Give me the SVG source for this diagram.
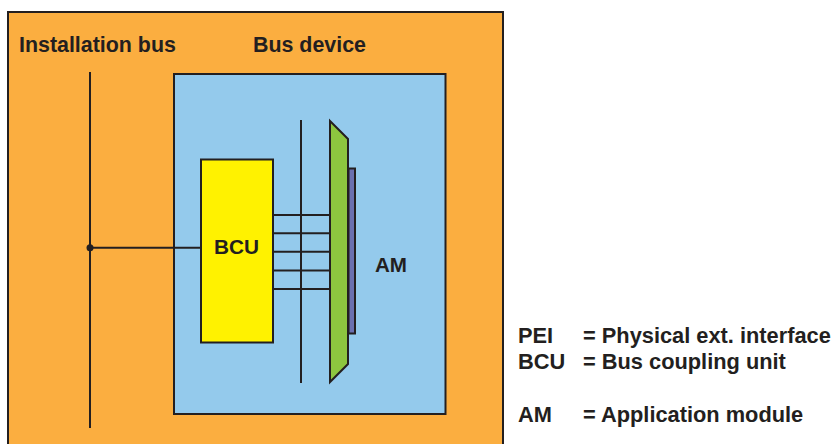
<svg xmlns="http://www.w3.org/2000/svg" width="832" height="444" viewBox="0 0 832 444">
<style>
.t{font-family:"Liberation Sans",Arial,sans-serif;font-weight:bold;fill:#231f20}
.s{stroke:#231f20;stroke-width:2}
.ln{stroke:#231f20;stroke-width:2;fill:none}
.lg{font-size:21.8px}
</style>
<rect width="832" height="444" fill="#ffffff"/>
<g id="bus-device-frame">
<rect x="8" y="12" width="495" height="440" fill="#fbae40" class="s"/>
<text class="t" x="19" y="52" font-size="21.4">Installation bus</text>
<text class="t" x="253" y="52" font-size="21.4">Bus device</text>
</g>
<g id="device-box">
<rect x="174" y="74" width="271.5" height="340" fill="#94caec" class="s"/>
</g>
<g id="installation-bus">
<line x1="90" y1="72" x2="90" y2="428" class="ln"/>
</g>
<g id="bcu">
<rect x="201" y="159.5" width="72" height="183" fill="#fff200" class="s"/>
<text class="t" x="236.5" y="254" font-size="20.8" text-anchor="middle">BCU</text>
</g>
<g id="pei-bus">
<line x1="301" y1="120" x2="301" y2="383" class="ln"/>
</g>
<g id="pei">
<polygon points="330,121 348,139 348,364 330,382" fill="#8dc63f" class="s" stroke-linejoin="miter"/>
</g>
<g id="am-connector">
<rect x="348.5" y="168.5" width="6.5" height="165" fill="#6b70b0" class="s"/>
</g>
<g id="am">
<text class="t" x="391" y="272" font-size="20.6" text-anchor="middle">AM</text>
</g>
<g id="connectors">
<line x1="90" y1="247.7" x2="201" y2="247.7" class="ln"/>
<circle cx="90" cy="247.7" r="3.5" fill="#231f20"/>
<line x1="273" y1="215" x2="330" y2="215" class="ln"/>
<line x1="273" y1="233.3" x2="330" y2="233.3" class="ln"/>
<line x1="273" y1="251.7" x2="330" y2="251.7" class="ln"/>
<line x1="273" y1="270.5" x2="330" y2="270.5" class="ln"/>
<line x1="273" y1="289" x2="330" y2="289" class="ln"/>
</g>
<g id="legend">
<text class="t lg" x="518" y="343">PEI</text>
<text class="t lg" x="583" y="343">= Physical ext. interface</text>
<text class="t lg" x="518" y="369">BCU</text>
<text class="t lg" x="583" y="369">= Bus coupling unit</text>
<text class="t lg" x="518" y="421.5">AM</text>
<text class="t lg" x="583" y="421.5">= Application module</text>
</g>
</svg>
